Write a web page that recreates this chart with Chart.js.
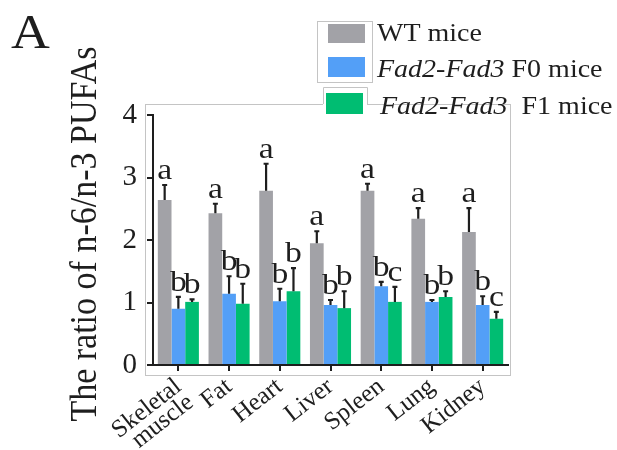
<!DOCTYPE html>
<html>
<head>
<meta charset="utf-8">
<script src="https://cdn.jsdelivr.net/npm/chart.js@4.4.0/dist/chart.umd.min.js"></script>
<style>
  body { margin: 0; background: #fff; }
  canvas { display: block; }
</style>
</head>
<body>
<canvas id="ratio-chart" width="617" height="450"></canvas>
<script>
const tissues = [['Skeletal', 'muscle'], 'Fat', 'Heart', 'Liver', 'Spleen', 'Lung', 'Kidney'];

const wtMean = [2.64, 2.43, 2.79, 1.95, 2.79, 2.34, 2.13];
const wtSd = [0.24, 0.15, 0.43, 0.19, 0.11, 0.17, 0.38];
const f0Mean = [0.90, 1.14, 1.02, 0.96, 1.26, 1.01, 0.96];
const f0Sd = [0.19, 0.28, 0.20, 0.08, 0.07, 0.03, 0.14];
const f1Mean = [1.01, 0.98, 1.18, 0.91, 1.01, 1.09, 0.74];
const f1Sd = [0.04, 0.32, 0.37, 0.27, 0.24, 0.09, 0.11];

// Significance letters above each bar.
const wtLetters = ['a', 'a', 'a', 'a', 'a', 'a', 'a'];
const f0Letters = ['b', 'b', 'b', 'b', 'b', 'b', 'b'];
const f1Letters = ['b', 'b', 'b', 'b', 'c', 'b', 'c'];

const yTicks = [0, 1, 2, 3, 4];

const SERIF = '"Liberation Serif", "Times New Roman", serif';
const INK = '#1e1e1e';
const COLORS = ['#a2a2a7', '#539ff7', '#00bd72'];
const STRETCH = 1.12; // the source figure is a bit wider than tall

const sds = [wtSd, f0Sd, f1Sd];
const letters = [wtLetters, f0Letters, f1Letters];

function wideText(ctx, txt, x, y, align) {
  ctx.save();
  ctx.translate(x, y);
  ctx.scale(STRETCH, 1);
  ctx.textAlign = align;
  ctx.fillText(txt, 0, 0);
  ctx.restore();
  return ctx.measureText(txt).width * STRETCH;
}

// Light frame behind the plot, like the exported figure has.
const framePlugin = {
  id: 'frame',
  beforeDraw(chart) {
    const { ctx } = chart;
    ctx.save();
    ctx.strokeStyle = '#c4c4c4';
    ctx.lineWidth = 1;
    ctx.strokeRect(145.5, 104.5, 365, 271);
    ctx.restore();
  },
};

// Upper error bars and the letters sitting on top of them.
const errorPlugin = {
  id: 'errorBars',
  afterDatasetsDraw(chart) {
    const { ctx, scales: { y } } = chart;
    ctx.save();
    chart.data.datasets.forEach((ds, di) => {
      const meta = chart.getDatasetMeta(di);
      meta.data.forEach((bar, i) => {
        const top = y.getPixelForValue(ds.data[i] + sds[di][i]);
        ctx.strokeStyle = INK;
        ctx.lineWidth = 2.2;
        ctx.beginPath();
        ctx.moveTo(bar.x, bar.y);
        ctx.lineTo(bar.x, top);
        ctx.moveTo(bar.x - 2.5, top);
        ctx.lineTo(bar.x + 2.5, top);
        ctx.stroke();

        ctx.fillStyle = INK;
        ctx.font = `30px ${SERIF}`;
        ctx.textBaseline = 'alphabetic';
        wideText(ctx, letters[di][i], bar.x, top - 6, 'center');
      });
    });
    ctx.restore();
  },
};

// Panel letter, rotated axis title and the boxed legend.
const annotatePlugin = {
  id: 'annotate',
  afterDraw(chart) {
    const { ctx } = chart;
    ctx.save();
    ctx.fillStyle = INK;
    ctx.textBaseline = 'alphabetic';

    ctx.font = `48px ${SERIF}`;
    wideText(ctx, 'A', 11, 48, 'left');

    ctx.save();
    ctx.translate(96, 234);
    ctx.rotate(-Math.PI / 2);
    ctx.scale(1, STRETCH);
    ctx.font = `34px ${SERIF}`;
    ctx.textAlign = 'center';
    ctx.fillText('The ratio of n-6/n-3 PUFAs', 0, 0);
    ctx.restore();

    // legend boxes
    ctx.strokeStyle = '#c4c4c4';
    ctx.lineWidth = 1;
    ctx.fillStyle = '#fff';
    ctx.fillRect(317, 21, 55, 61);
    ctx.strokeRect(317.5, 21.5, 55, 61);
    ctx.fillRect(323, 87, 44, 30);
    ctx.beginPath();
    ctx.moveTo(323.5, 104);
    ctx.lineTo(323.5, 87.5);
    ctx.lineTo(367.5, 87.5);
    ctx.lineTo(367.5, 104);
    ctx.stroke();

    const rows = [
      { sw: [328, 24, 37, 19], x: 377, base: 41, parts: [['WT mice', false]] },
      { sw: [328, 57, 37, 20], x: 377, base: 77, parts: [['Fad2-Fad3', true], [' F0 mice', false]] },
      { sw: [326, 93, 37, 21], x: 380, base: 114, parts: [['Fad2-Fad3', true], ['  F1 mice', false]] },
    ];
    rows.forEach((r, i) => {
      ctx.fillStyle = COLORS[i];
      ctx.fillRect(...r.sw);
      let x = r.x;
      ctx.fillStyle = INK;
      r.parts.forEach(([txt, italic]) => {
        ctx.font = `${italic ? 'italic ' : ''}25px ${SERIF}`;
        x += wideText(ctx, txt, x, r.base, 'left');
      });
    });
    ctx.restore();
  },
};

new Chart(document.getElementById('ratio-chart'), {
  type: 'bar',
  data: {
    labels: tissues,
    datasets: [
      { label: 'WT mice', data: wtMean, backgroundColor: COLORS[0] },
      { label: 'Fad2-Fad3 F0 mice', data: f0Mean, backgroundColor: COLORS[1] },
      { label: 'Fad2-Fad3 F1 mice', data: f1Mean, backgroundColor: COLORS[2] },
    ],
  },
  options: {
    responsive: false,
    animation: false,
    devicePixelRatio: 1,
    categoryPercentage: 0.81,
    barPercentage: 1.0,
    layout: { padding: { left: 0, top: 115, right: 109, bottom: 0 } },
    plugins: { legend: { display: false }, tooltip: { enabled: false } },
    scales: {
      x: {
        afterFit(scale) { scale.height = 85; },
        grid: {
          display: true,
          drawOnChartArea: false,
          offset: false,
          tickLength: 6,
          color: INK,
          lineWidth: 2,
        },
        border: { display: true, color: INK, width: 2 },
        ticks: {
          autoSkip: false,
          minRotation: 38,
          maxRotation: 38,
          padding: 5,
          color: INK,
          font: { family: SERIF, size: 25, lineHeight: 0.8 },
        },
      },
      y: {
        min: 0,
        max: 4,
        afterFit(scale) { scale.width = 153; },
        afterBuildTicks(scale) { scale.ticks = yTicks.map((v) => ({ value: v })); },
        grid: {
          display: true,
          drawOnChartArea: false,
          tickLength: 6,
          color: INK,
          lineWidth: 2,
        },
        border: { display: true, color: INK, width: 2 },
        ticks: {
          padding: 10,
          color: INK,
          font: { family: SERIF, size: 29 },
        },
      },
    },
  },
  plugins: [framePlugin, errorPlugin, annotatePlugin],
});
</script>
</body>
</html>
